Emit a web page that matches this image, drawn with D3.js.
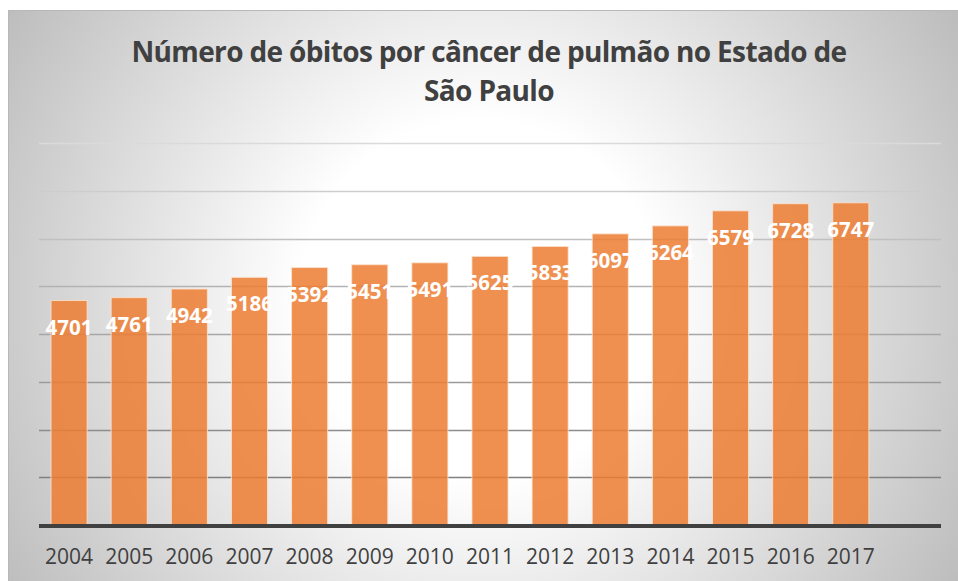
<!DOCTYPE html>
<html>
<head>
<meta charset="utf-8">
<script src="https://cdn.jsdelivr.net/npm/d3@7"></script>
<style>
  body { margin: 0; background: #fff; }
  text { font-family: "Open Sans", "Noto Sans", sans-serif; }
</style>
</head>
<body>
<svg></svg>
<script>
var width = 958;
var height = 581;

// data
var years = ["2004", "2005", "2006", "2007", "2008", "2009", "2010",
             "2011", "2012", "2013", "2014", "2015", "2016", "2017"];
var deaths = [4701, 4761, 4942, 5186, 5392, 5451, 5491,
              5625, 5833, 6097, 6264, 6579, 6728, 6747];
var gridTicks = [1000, 2000, 3000, 4000, 5000, 6000, 7000, 8000];
var titleLines = ["Número de óbitos por câncer de pulmão no Estado de", "São Paulo"];

var svg = d3.select("svg")
    .attr("width", width)
    .attr("height", height);

var defs = svg.append("defs");
var grad = defs.append("radialGradient")
    .attr("id", "bg")
    .attr("gradientUnits", "userSpaceOnUse")
    .attr("cx", 480).attr("cy", 300).attr("r", 560);
grad.append("stop").attr("offset", "0").attr("stop-color", "#ffffff");
grad.append("stop").attr("offset", "0.32").attr("stop-color", "#ffffff");
grad.append("stop").attr("offset", "1").attr("stop-color", "#bcbcbc");

// chart frame
svg.append("rect")
    .attr("x", 8.5).attr("y", 10.5)
    .attr("width", 960).attr("height", 580)
    .attr("fill", "url(#bg)")
    .attr("stroke", "#b8b8b8");

// scales (one empty slot at the end, as in the original)
var x = d3.scaleBand()
    .domain(years.concat([""]))
    .range([39, 941])
    .paddingInner(0.4)
    .paddingOuter(0.2);

var y = d3.scaleLinear()
    .domain([0, 8000])
    .range([525, 143]);

var gridColor = d3.scaleLinear()
    .domain([1000, 8000])
    .range(["#808080", "#dadada"]);

// gridlines
svg.append("g")
    .attr("class", "grid")
  .selectAll("line")
  .data(gridTicks)
  .enter().append("line")
    .attr("x1", 39).attr("x2", 941)
    .attr("y1", function(d) { return Math.round(y(d)) + 0.5; })
    .attr("y2", function(d) { return Math.round(y(d)) + 0.5; })
    .attr("stroke", function(d) { return gridColor(d); })
    .attr("stroke-width", 1.5);

// bars
svg.append("g")
    .attr("class", "bars")
  .selectAll("rect")
  .data(deaths)
  .enter().append("rect")
    .attr("x", function(d, i) { return x(years[i]); })
    .attr("y", function(d) { return y(d); })
    .attr("width", x.bandwidth())
    .attr("height", function(d) { return y(0) - y(d); })
    .attr("fill", "#ed7d31")
    .attr("fill-opacity", 0.85)
    .attr("stroke", "#fbe3d2")
    .attr("stroke-opacity", 0.8)
    .attr("stroke-width", 1);

// baseline
svg.append("line")
    .attr("x1", 39).attr("x2", 941)
    .attr("y1", y(0) + 1).attr("y2", y(0) + 1)
    .attr("stroke", "#404040")
    .attr("stroke-width", 4);

// value labels
svg.append("g")
    .attr("class", "labels")
  .selectAll("text")
  .data(deaths)
  .enter().append("text")
    .attr("x", function(d, i) { return x(years[i]) + x.bandwidth() / 2; })
    .attr("y", function(d) { return y(d) + 34; })
    .attr("text-anchor", "middle")
    .attr("fill", "#ffffff")
    .attr("font-weight", "bold")
    .attr("font-size", "20.5px")
    .text(function(d) { return d; });

// year labels
svg.append("g")
    .attr("class", "years")
  .selectAll("text")
  .data(years)
  .enter().append("text")
    .attr("x", function(d) { return x(d) + x.bandwidth() / 2; })
    .attr("y", 564)
    .attr("text-anchor", "middle")
    .attr("fill", "#404040")
    .attr("font-size", "21px")
    .text(function(d) { return d; });

// title
svg.append("g")
    .attr("class", "title")
  .selectAll("text")
  .data(titleLines)
  .enter().append("text")
    .attr("x", 489)
    .attr("y", function(d, i) { return 62 + i * 39; })
    .attr("text-anchor", "middle")
    .attr("fill", "#404040")
    .attr("font-weight", "bold")
    .attr("font-size", "28px")
    .attr("letter-spacing", "-0.65px")
    .text(function(d) { return d; });
</script>
</body>
</html>
